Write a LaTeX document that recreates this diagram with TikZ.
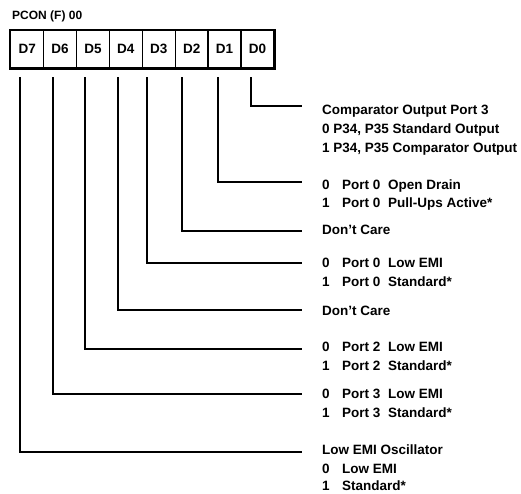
\documentclass[tikz,border=0pt]{standalone}
\usepackage{fontspec}
\setmainfont{Liberation Sans}
\newcommand{\bitcol}[1]{\makebox[20pt][l]{#1}}
\newcommand{\portcol}[1]{\makebox[46pt][l]{#1}}
\begin{document}
\begin{tikzpicture}[x=1pt,y=-1pt,
  font=\fontsize{13.5}{15}\selectfont\bfseries,
  cell/.style={draw, line width=1.4pt, minimum width=32.9pt, minimum height=37pt, inner sep=0pt, anchor=north west},
  lead/.style={line width=2.3pt},
  txt/.style={anchor=base west, inner sep=0pt}]
\useasboundingbox (0,0) rectangle (521,493);
% title
\node[txt, font=\fontsize{12}{14}\selectfont\bfseries] (title) at (12,19) {PCON (F) 00};
% register cells
\foreach \i/\n in {0/7,1/6,2/5,3/4,4/3,5/2,6/1,7/0}{
  \node[cell] (d\n) at ({10+32.9*\i},30) {D\n};
}
\draw[line width=2.6pt] (d7.north west) rectangle (d0.south east);
% lead start and end points
\foreach \n/\x/\y in {7/20/452, 6/53/394, 5/85/349, 4/118/310, 3/147/263, 2/182/231, 1/218/182, 0/251/106}{
  \coordinate (s\n) at (\x,77);
  \coordinate (e\n) at (302,\y);
}
\foreach \n in {0,...,7}{
  \draw[lead] (s\n) |- (e\n);
}
% texts
\node[txt] (t0a) at (322,114.5) {Comparator Output Port 3};
\node[txt] (t0b) at (322,133.5) {0 P34, P35 Standard Output};
\node[txt] (t0c) at (322,152.5) {1 P34, P35 Comparator Output};
\node[txt] (t1a) at (322,189.5) {\bitcol{0}\portcol{Port 0}Open Drain};
\node[txt] (t1b) at (322,207.5) {\bitcol{1}\portcol{Port 0}Pull-Ups Active*};
\node[txt] (t2a) at (322,234.5) {Don't Care};
\node[txt] (t3a) at (322,267.5) {\bitcol{0}\portcol{Port 0}Low EMI};
\node[txt] (t3b) at (322,286.5) {\bitcol{1}\portcol{Port 0}Standard*};
\node[txt] (t4a) at (322,315.5) {Don't Care};
\node[txt] (t5a) at (322,351.5) {\bitcol{0}\portcol{Port 2}Low EMI};
\node[txt] (t5b) at (322,370.5) {\bitcol{1}\portcol{Port 2}Standard*};
\node[txt] (t6a) at (322,398.5) {\bitcol{0}\portcol{Port 3}Low EMI};
\node[txt] (t6b) at (322,417.5) {\bitcol{1}\portcol{Port 3}Standard*};
\node[txt] (t7a) at (322,454.5) {Low EMI Oscillator};
\node[txt] (t7b) at (322,473) {\bitcol{0}Low EMI};
\node[txt] (t7c) at (322,490) {\bitcol{1}Standard*};
\end{tikzpicture}
\end{document}
